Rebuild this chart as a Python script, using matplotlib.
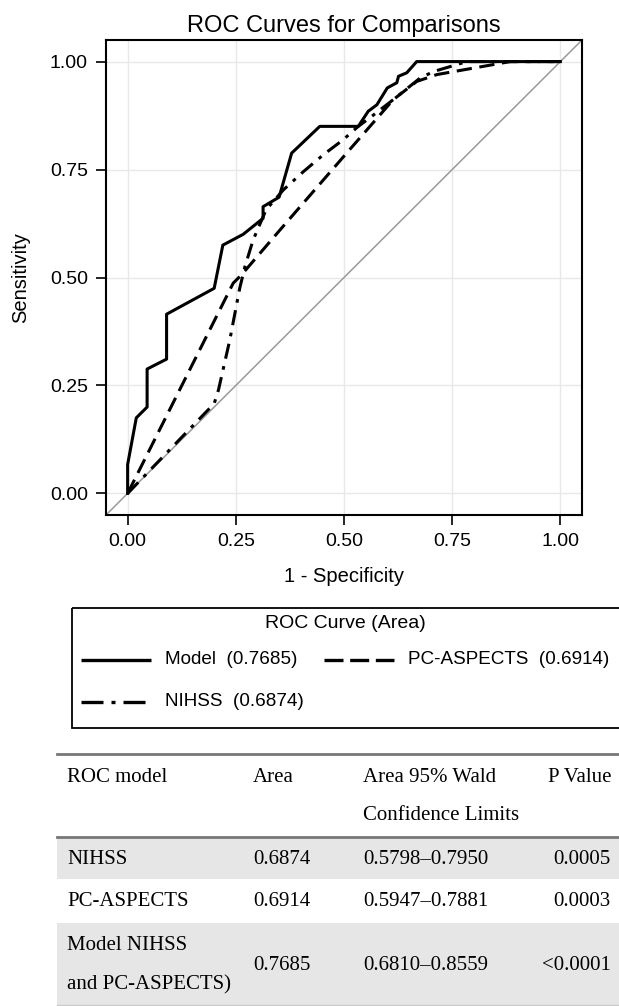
import matplotlib.pyplot as plt

plt.rcParams['font.family'] = ['Liberation Sans', 'DejaVu Sans']

# ROC curve points (1 - specificity, sensitivity)
model_fpr = [0.0, 0.0, 0.02, 0.045, 0.045, 0.09, 0.09, 0.20, 0.22, 0.267, 0.313, 0.313,
             0.35, 0.379, 0.444, 0.533, 0.556, 0.576, 0.60, 0.622, 0.626, 0.645, 0.668, 1.0]
model_tpr = [0.0, 0.067, 0.175, 0.20, 0.288, 0.311, 0.415, 0.475, 0.575, 0.60, 0.637, 0.664,
             0.686, 0.788, 0.85, 0.85, 0.885, 0.90, 0.939, 0.951, 0.966, 0.974, 1.0, 1.0]

pc_fpr = [0.0, 0.244, 0.263, 0.352, 0.506, 0.614, 0.668, 0.715, 0.884, 1.0]
pc_tpr = [0.0, 0.487, 0.506, 0.61, 0.788, 0.912, 0.954, 0.97, 1.0, 1.0]

nihss_fpr = [0.0, 0.20, 0.21, 0.236, 0.259, 0.271, 0.29, 0.32, 0.36, 0.406, 0.452, 0.498,
             0.533, 0.56, 0.614, 0.676, 0.707, 0.784, 1.0]
nihss_tpr = [0.0, 0.208, 0.24, 0.355, 0.475, 0.525, 0.587, 0.657, 0.703, 0.745, 0.784, 0.819,
             0.85, 0.87, 0.912, 0.962, 0.977, 1.0, 1.0]

ticks = [0.0, 0.25, 0.5, 0.75, 1.0]

# legend entries
leg_labels = ["Model  (0.7685)", "PC-ASPECTS  (0.6914)", "NIHSS  (0.6874)"]

# table
col_headers = ["ROC model", "Area", "Area 95% Wald", "P Value"]
roc_models = ["NIHSS", "PC-ASPECTS", "Model NIHSS\nand PC-ASPECTS)"]
areas = ["0.6874", "0.6914", "0.7685"]
wald_ci = ["0.5798\u20130.7950", "0.5947\u20130.7881", "0.6810\u20130.8559"]
p_values = ["0.0005", "0.0003", "<0.0001"]

W, H = 619, 1006
fig = plt.figure(figsize=(W / 100, H / 100), dpi=100)

DASH = (0, (5, 2.5))
DASHDOT = (0, (5, 2.5, 1.2, 2.5))

ax = fig.add_axes([106 / W, 1 - 515 / H, 476 / W, 475 / H])
ax.plot([-0.05, 1.05], [-0.05, 1.05], color='#9a9a9a', lw=1.1, zorder=1)
ax.plot(nihss_fpr, nihss_tpr, color='black', lw=2.2, linestyle=DASHDOT, zorder=3)
ax.plot(pc_fpr, pc_tpr, color='black', lw=2.2, linestyle=DASH, zorder=3)
ax.plot(model_fpr, model_tpr, color='black', lw=2.2, zorder=4)
ax.set_xlim(-0.05, 1.05)
ax.set_ylim(-0.05, 1.05)
ax.set_xticks(ticks)
ax.set_yticks(ticks)
ax.set_xticklabels([f"{t:.2f}" for t in ticks])
ax.set_yticklabels([f"{t:.2f}" for t in ticks])
ax.tick_params(direction='out', length=7, width=1.2, labelsize=14, pad=6)
ax.grid(True, color='#e8e8e8', lw=1)
ax.set_axisbelow(True)
for s in ax.spines.values():
    s.set_linewidth(1.5)
ax.set_title("ROC Curves for Comparisons", fontsize=17, pad=6)
ax.set_xlabel("1 - Specificity", fontsize=14.5, labelpad=12)
ax.set_ylabel("Sensitivity", fontsize=14.5, labelpad=14)

# overlay in pixel coordinates for legend and table
ov = fig.add_axes([0, 0, 1, 1])
ov.set_xlim(0, W)
ov.set_ylim(H, 0)
ov.axis('off')

# legend box
ov.add_patch(plt.Rectangle((72, 608), 560, 120, fill=False, lw=1.3, edgecolor='black'))
ov.text(345, 623, "ROC Curve (Area)", ha='center', va='center', fontsize=14)
leg_pos = [(81, 660), (324, 660), (81, 702)]
leg_styles = ['-', (0, (5.7, 2.0)), (0, (6.6, 2.4, 1.2, 2.4))]
for (x0, y0), lab, st in zip(leg_pos, leg_labels, leg_styles):
    ov.plot([x0, x0 + 70], [y0, y0], color='black', lw=2.4, linestyle=st,
            solid_capstyle='butt', dash_capstyle='butt')
    ov.text(x0 + 84, y0, lab, ha='left', va='center', fontsize=13.6)

# table
serif = ['Liberation Serif', 'DejaVu Serif']
ov.axhspan(837, 879, xmin=57 / W, xmax=1, color='#e6e6e6', lw=0)
ov.axhspan(923, 1005, xmin=57 / W, xmax=1, color='#e6e6e6', lw=0)
ov.plot([57, W], [754, 754], color='#777777', lw=2)
ov.plot([57, W], [837, 837], color='#777777', lw=2)
ov.plot([57, W], [1005, 1005], color='#cccccc', lw=1)

col_x = [67, 253, 363, 611]
fs = 15
for i, h in enumerate(col_headers):
    ov.text(col_x[i], 777, h, ha='right' if i == 3 else 'left', va='center',
            fontsize=fs, family=serif)
ov.text(col_x[2], 816, "Confidence Limits", ha='left', va='center', fontsize=fs, family=serif)

row_y = [859, 902, 965]
for i in range(len(roc_models)):
    y = row_y[i]
    lines = roc_models[i].split("\n")
    if len(lines) == 1:
        ov.text(col_x[0], y, lines[0], ha='left', va='center', fontsize=fs, family=serif)
    else:
        ov.text(col_x[0], y - 20, lines[0], ha='left', va='center', fontsize=fs, family=serif)
        ov.text(col_x[0], y + 20, lines[1], ha='left', va='center', fontsize=fs, family=serif)
    ov.text(col_x[1], y, areas[i], ha='left', va='center', fontsize=fs, family=serif)
    ov.text(col_x[2], y, wald_ci[i], ha='left', va='center', fontsize=fs, family=serif)
    ov.text(col_x[3], y, p_values[i], ha='right', va='center', fontsize=fs, family=serif)

fig.savefig("out.png", dpi=100)
